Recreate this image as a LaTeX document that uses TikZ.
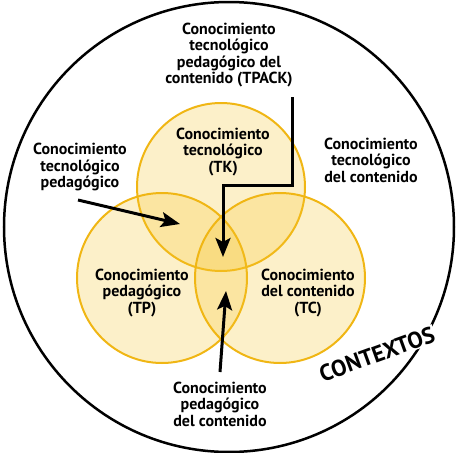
\documentclass[tikz,border=0pt]{standalone}
\usepackage{fontspec}
\setmainfont{PT Sans}
\usetikzlibrary{arrows.meta}
\definecolor{ringgold}{RGB}{240,182,20}
\definecolor{ringfill}{RGB}{245,195,40}
\begin{document}
\begin{tikzpicture}[x=1pt,y=-1pt]
            \tikzstyle{arrow}=[line width=3pt,line join=miter,-{Stealth[length=19pt,width=15pt,inset=4pt]}]
            \tikzstyle{ring}=[draw=ringgold,line width=2pt,fill=ringfill,fill opacity=0.25]
            \tikzstyle{label}=[align=center,inner sep=0pt,font=\fontsize{16}{16.5}\selectfont\bfseries]
            \useasboundingbox (0,0) rectangle (459,453);
            % contexts
            \draw[line width=2.5pt] (229,227) circle (225);
            \node[rotate=20,fill=white,inner sep=1pt,font=\fontsize{23}{23}\selectfont\bfseries] (contexts) at (377,354) {CONTEXTOS};
            % knowledge circles
            \draw[ring] (221,187) circle (84);
            \draw[ring] (162,278) circle (85);
            \draw[ring] (280,278) circle (85);
            % circle labels
            \node[label] (tk) at (223,152) {Conocimiento\\tecnológico\\(TK)};
            \node[label] (tp) at (142,293) {Conocimiento\\pedagógico\\(TP)};
            \node[label] (tc) at (308,293) {Conocimiento\\del contenido\\(TC)};
            % outer labels
            \node[label] (tpack) at (229,55) {Conocimiento\\tecnológico\\pedagógico del\\contenido (TPACK)};
            \node[label] (tck) at (371,160) {Conocimiento\\tecnológico\\del contenido};
            \node[label] (tpk) at (80,167) {Conocimiento\\tecnológico\\pedagógico};
            \node[label] (pck) at (220,404) {Conocimiento\\pedagógico\\del contenido};
            % anchor coordinates
            \coordinate (tpack start) at (292,97);
            \coordinate (tpack tip) at (223,257);
            \coordinate (tpk start) at (78,200);
            \coordinate (tpk tip) at (180,224);
            \coordinate (pck start) at (220,372);
            \coordinate (pck tip) at (226,291);
            % arrows
            \draw [arrow] (tpack start) -- ++(0,88) -| (tpack tip);
            \draw [arrow] (tpk start) -- (tpk tip);
            \draw [arrow] (pck start) -- (pck tip);
        \end{tikzpicture}
\end{document}
